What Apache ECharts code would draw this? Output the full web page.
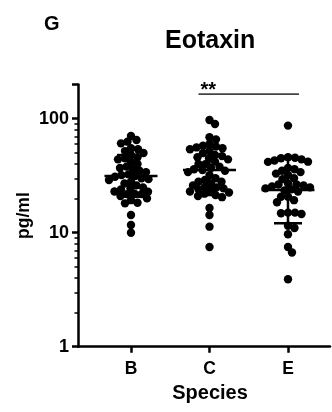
<!DOCTYPE html>
<html>
<head>
<meta charset="utf-8">
<script src="https://cdn.jsdelivr.net/npm/echarts@6/dist/echarts.min.js"></script>
<style>
html,body{margin:0;padding:0;background:#fff;}
#chart{width:332px;height:412px;}
</style>
</head>
<body>
<div id="chart"></div>
<script>
// ---- data ----
const categories = ['B', 'C', 'E'];
const valuesB = [70.5, 65, 62.9, 60.8, 55, 54, 52, 50, 48, 46, 45, 44, 42, 40, 38, 37, 36, 35, 34, 32.5, 32, 31.4, 31, 30, 29.5, 29, 28, 27, 26, 25, 24.5, 24, 23, 22.9, 22, 21.8, 21.8, 21, 20, 19.3, 18.3, 18.1, 14.3, 11.7, 10.0];
const valuesC = [97.5, 89.8, 68.7, 65.9, 60, 58, 57, 56, 55, 54, 52, 50, 48, 47, 46, 45, 44, 42, 40, 40, 38, 37, 36, 35.5, 35, 34, 32, 30, 29, 28, 28, 27, 26, 25.3, 25, 24.5, 24, 23.5, 23, 22.5, 22, 21.4, 21, 20.5, 16.5, 14.3, 11.3, 7.5];
const valuesE = [87, 46, 45.5, 45, 44, 43, 42, 41.8, 37, 36, 35, 34, 33, 32, 30, 29.5, 27, 26.5, 26.5, 26, 25.5, 25, 24.5, 24, 23.5, 23, 20.7, 20.7, 19.3, 18.5, 15, 15, 14.8, 14.6, 11.5, 11.0, 9.7, 7.5, 6.7, 3.9];
const medians = [31.4, 35.5, 23.7];
const lowerQ = [20.7, 21.4, 12.1];
const upperQ = [48, 57, 45];
const yTickValues = [1, 10, 100, 200];
const yLabelValues = [1, 10, 100];
const yMinorTicks = [2, 3, 4, 5, 6, 7, 8, 9, 20, 30, 40, 50, 60, 70, 80, 90];
const sigFrom = 1, sigTo = 2, sigLevel = 164, sigLabel = '**';

// ---- chart ----
const FONT = '"Liberation Sans", Arial, sans-serif';
const chart = echarts.init(document.getElementById('chart'), null, {renderer: 'canvas'});
const groups = [valuesB, valuesC, valuesE];

const baseOption = {
  animation: false,
  title: [
    {text: 'G', left: 44, top: 14, padding: 0,
     textStyle: {fontFamily: FONT, fontWeight: 'bold', fontSize: 20, color: '#000'}},
    {text: 'Eotaxin', left: 165, top: 29, padding: 0,
     textStyle: {fontFamily: FONT, fontWeight: 'bold', fontSize: 25, color: '#000'}}
  ],
  grid: {left: 78, right: 2, top: 84.4, bottom: 65.3, containLabel: false},
  xAxis: {
    type: 'value', min: -0.675, max: 2.535,
    name: 'Species', nameLocation: 'middle', nameGap: 37, nameMoveOverlap: false,
    nameTextStyle: {fontFamily: FONT, fontWeight: 'bold', fontSize: 20, color: '#000', padding: [0, 0, 0, 12]},
    splitLine: {show: false},
    axisLine: {onZero: false, lineStyle: {color: '#000', width: 2.5}},
    axisTick: {customValues: [0, 1, 2], length: 6, lineStyle: {color: '#000', width: 2.5}},
    axisLabel: {customValues: [0, 1, 2], margin: 13, fontFamily: FONT, fontWeight: 'bold', fontSize: 17.5, color: '#000',
      formatter: v => categories[Math.round(v)] || ''}
  },
  yAxis: [{
    type: 'log', logBase: 10, min: 1, max: 200,
    name: 'pg/ml', nameLocation: 'middle', nameGap: 45, nameMoveOverlap: false,
    nameTextStyle: {fontFamily: FONT, fontWeight: 'bold', fontSize: 17.5, color: '#000'},
    splitLine: {show: false},
    axisLine: {show: true, onZero: false, lineStyle: {color: '#000', width: 2.5}},
    axisTick: {show: true, customValues: yTickValues, length: 6, lineStyle: {color: '#000', width: 2.5}},
    axisLabel: {customValues: yLabelValues, margin: 9, fontFamily: FONT, fontWeight: 'bold', fontSize: 18, color: '#000',
      formatter: v => String(Math.round(v))}
  }, {
    type: 'log', logBase: 10, min: 1, max: 200, position: 'left',
    splitLine: {show: false},
    axisLine: {show: false, onZero: false},
    axisTick: {show: true, customValues: yMinorTicks, length: 3.5, lineStyle: {color: '#000', width: 1.5}},
    axisLabel: {show: false}
  }],
  series: []
};
chart.setOption(baseOption);

// beeswarm layout (pixel-space collision avoidance), converted back to axis units
function swarm(values, idx) {
  const D = 6.6;
  const p0 = chart.convertToPixel({gridIndex: 0}, [idx, 10]);
  const p1 = chart.convertToPixel({gridIndex: 0}, [idx + 1, 10]);
  const pxPerUnit = p1[0] - p0[0];
  const sorted = values.slice().sort((a, b) => b - a);
  const placed = [];
  const out = [];
  sorted.forEach(v => {
    const py = chart.convertToPixel({gridIndex: 0}, [idx, v])[1];
    let off = 0;
    for (let k = 0; k < 400; k++) {
      const cand = k === 0 ? 0 : (k % 2 ? 1 : -1) * Math.ceil(k / 2) * 0.5;
      const ok = placed.every(p => (p.x - cand) * (p.x - cand) + (p.y - py) * (p.y - py) >= D * D);
      if (ok) { off = cand; break; }
    }
    placed.push({x: off, y: py});
    out.push([idx + off / pxPerUnit, v]);
  });
  return out;
}

const scatterSeries = groups.map((vals, i) => ({
  type: 'scatter', name: categories[i], data: swarm(vals, i),
  symbol: 'circle', symbolSize: 8.4, itemStyle: {color: '#000', opacity: 1}, z: 2
}));

const errSeries = {
  type: 'custom', z: 4, clip: false,
  data: categories.map((c, i) => [i, medians[i], lowerQ[i], upperQ[i]]),
  encode: {x: 0, y: [1, 2, 3]},
  renderItem: function (params, api) {
    const x = api.value(0);
    const pm = api.coord([x, api.value(1)]);
    const pl = api.coord([x, api.value(2)]);
    const ph = api.coord([x, api.value(3)]);
    const st = {stroke: '#000', lineWidth: 2.5};
    const hm = 26.5, hc = 14;
    return {type: 'group', children: [
      {type: 'line', shape: {x1: pm[0] - hm, y1: pm[1], x2: pm[0] + hm, y2: pm[1]}, style: st},
      {type: 'line', shape: {x1: pl[0], y1: pl[1], x2: ph[0], y2: ph[1]}, style: st},
      {type: 'line', shape: {x1: pl[0] - hc, y1: pl[1], x2: pl[0] + hc, y2: pl[1]}, style: st},
      {type: 'line', shape: {x1: ph[0] - hc, y1: ph[1], x2: ph[0] + hc, y2: ph[1]}, style: st}
    ]};
  }
};

const sigSeries = {
  type: 'custom', z: 4, clip: false,
  data: [[sigFrom, sigTo, sigLevel]],
  encode: {x: [0, 1], y: 2},
  renderItem: function (params, api) {
    const a = api.coord([api.value(0), api.value(2)]);
    const b = api.coord([api.value(1), api.value(2)]);
    return {type: 'group', children: [
      {type: 'line', shape: {x1: a[0] - 11, y1: a[1], x2: b[0] + 11, y2: b[1]}, style: {stroke: '#444', lineWidth: 1.8}},
      {type: 'text', x: a[0] - 9, y: a[1] - 14,
       style: {text: sigLabel, font: 'bold 20px ' + FONT, fill: '#000', textAlign: 'left', textVerticalAlign: 'top'}}
    ]};
  }
};

chart.setOption({series: scatterSeries.concat([errSeries, sigSeries])});
</script>
</body>
</html>
